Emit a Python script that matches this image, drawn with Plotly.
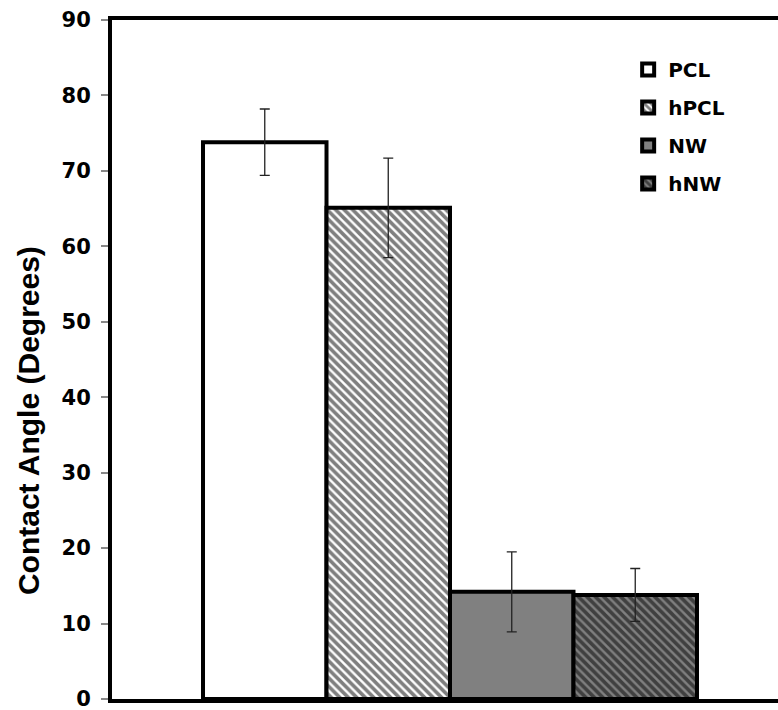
import plotly.graph_objects as go

# Contact angle per surface treatment
samples = ["PCL", "hPCL", "NW", "hNW"]
angles = [73.8, 65.1, 14.2, 13.8]
errors = [4.4, 6.6, 5.3, 3.5]
positions = [1, 2, 3, 4]

fills = ["white", "white", "#808080", "#808080"]
shapes = ["", "\\", "", "\\"]
stripe_colors = ["black", "black", "black", "black"]

title_font = "Liberation Sans, Arial, sans-serif"
label_font = "DejaVu Sans, Verdana, sans-serif"

fig = go.Figure()
for i, name in enumerate(samples):
    pattern = dict(shape=shapes[i], fgcolor=stripe_colors[i], bgcolor=fills[i],
                   size=6, solidity=0.6) if shapes[i] else dict(shape="")
    fig.add_trace(go.Bar(
        x=[positions[i]], y=[angles[i]], name=name, width=1,
        legendgroup=name,
        marker=dict(color=fills[i], line=dict(color="black", width=4), pattern=pattern),
        error_y=dict(type="data", array=[errors[i]], color="#222222", thickness=1.3, width=5),
    ))

fig.update_layout(
    width=778, height=710,
    margin=dict(l=112, r=0, t=20, b=11, autoexpand=False),
    plot_bgcolor="white", paper_bgcolor="white",
    showlegend=True,
    legend=dict(x=0.775, y=0.956, xanchor="left", yanchor="top",
                font=dict(family=label_font, size=20, color="black", weight="bold"),
                traceorder="grouped", tracegroupgap=9, bgcolor="rgba(0,0,0,0)"),
    font=dict(family=title_font, color="black"),
)
fig.update_xaxes(range=[-0.237, 5.156], showticklabels=False, ticks="",
                 showline=True, linecolor="black", linewidth=4, mirror=True,
                 showgrid=False, zeroline=False, automargin=False)
fig.update_yaxes(range=[0, 90], dtick=10, ticks="outside", ticklen=7, tickcolor="#888888",
                 tickwidth=1.5, ticklabeloverflow="allow", ticklabelstandoff=6,
                 showline=True, linecolor="black", linewidth=4, showgrid=False, zeroline=False,
                 automargin=False,
                 tickfont=dict(family=label_font, size=21, color="black", weight="bold"))

# y-axis title, placed as a rotated annotation
fig.add_annotation(text="Contact Angle (Degrees)", textangle=-90,
                   xref="paper", yref="paper", x=-0.126, y=(699 - 421) / 679,
                   xanchor="center", yanchor="middle", showarrow=False,
                   font=dict(family=title_font, size=30, color="black", weight="bold"))

fig.write_html("out.html")
